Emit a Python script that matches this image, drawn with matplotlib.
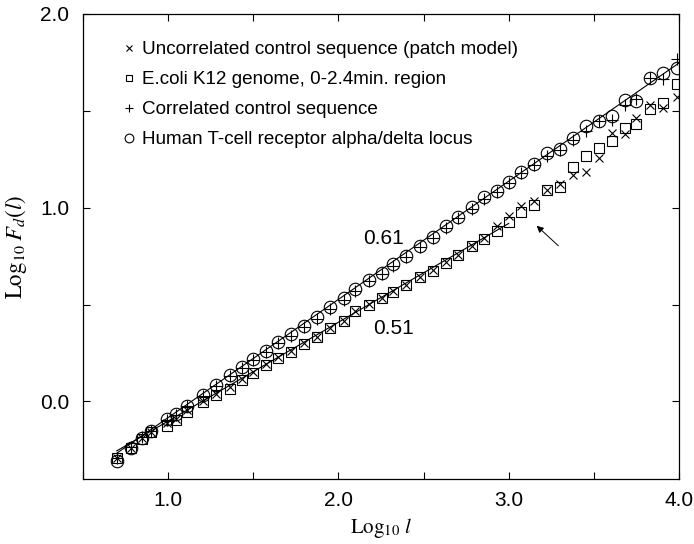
import numpy as np
import matplotlib
matplotlib.use('Agg')
from matplotlib import pyplot as plt
from matplotlib.ticker import MultipleLocator, FormatStrFormatter

# Log10 of window length l (shared by all four series)
log_l = [0.698, 0.780, 0.845, 0.899, 0.995, 1.044, 1.112, 1.203, 1.279, 1.363,
         1.432, 1.500, 1.573, 1.647, 1.722, 1.795, 1.873, 1.951, 2.030, 2.100,
         2.178, 2.253, 2.321, 2.396, 2.478, 2.553, 2.631, 2.703, 2.782, 2.856,
         2.929, 3.002, 3.075, 3.148, 3.225, 3.300, 3.375, 3.452, 3.528, 3.604,
         3.682, 3.750, 3.829, 3.907, 3.986]

# Log10 F_d(l) per series
uncorrelated = [-0.290, -0.239, -0.190, -0.158, -0.110, -0.090, -0.045, 0.005, 0.040, 0.075,
                0.117, 0.151, 0.191, 0.228, 0.259, 0.300, 0.335, 0.380, 0.418, 0.469,
                0.504, 0.535, 0.569, 0.603, 0.644, 0.679, 0.718, 0.758, 0.804, 0.844,
                0.907, 0.959, 1.010, 1.036, 1.091, 1.122, 1.170, 1.182, 1.259, 1.388,
                1.380, 1.462, 1.531, 1.514, 1.569]
ecoli = [-0.292, -0.242, -0.192, -0.160, -0.124, -0.098, -0.055, -0.004, 0.031, 0.067,
         0.112, 0.148, 0.188, 0.225, 0.257, 0.297, 0.332, 0.377, 0.415, 0.465,
         0.500, 0.532, 0.566, 0.600, 0.641, 0.676, 0.715, 0.755, 0.800, 0.840,
         0.881, 0.924, 0.976, 1.015, 1.091, 1.105, 1.211, 1.268, 1.308, 1.345,
         1.414, 1.431, 1.509, 1.538, 1.638]
correlated = [-0.290, -0.236, -0.185, -0.150, -0.095, -0.070, -0.025, 0.030, 0.080, 0.130,
              0.172, 0.215, 0.258, 0.300, 0.340, 0.385, 0.428, 0.478, 0.526, 0.572,
              0.620, 0.660, 0.700, 0.748, 0.795, 0.842, 0.895, 0.948, 0.995, 1.047,
              1.083, 1.130, 1.178, 1.220, 1.268, 1.300, 1.352, 1.397, 1.448, 1.452,
              1.531, 1.560, 1.672, 1.663, 1.766]
human_tcr = [-0.305, -0.239, -0.187, -0.153, -0.089, -0.064, -0.021, 0.035, 0.085, 0.135,
             0.177, 0.220, 0.263, 0.306, 0.349, 0.392, 0.435, 0.486, 0.532, 0.580,
             0.626, 0.664, 0.709, 0.753, 0.804, 0.851, 0.905, 0.954, 1.002, 1.053,
             1.088, 1.135, 1.182, 1.225, 1.280, 1.302, 1.359, 1.423, 1.448, 1.474,
             1.555, 1.552, 1.672, 1.693, 1.720]

labels = ['Uncorrelated control sequence (patch model)',
          'E.coli K12 genome, 0-2.4min. region',
          'Correlated control sequence',
          'Human T-cell receptor alpha/delta locus']

# Fitted lines: slope, intercept, x range
fit_slopes = [0.61, 0.51]
fit_intercepts = [-0.693, -0.611]
fit_ranges = [(0.698, 4.0), (0.698, 3.0)]
fit_labels = ['0.61', '0.51']

plt.rcParams['font.family'] = ['Liberation Sans', 'DejaVu Sans']
plt.rcParams['mathtext.fontset'] = 'stix'

fig = plt.figure(figsize=(6.94, 5.44), dpi=100)
ax = fig.add_axes([0.1196, 0.1195, 0.8588, 0.8548])

# fitted lines
for s, b, (x0, x1) in zip(fit_slopes, fit_intercepts, fit_ranges):
    xx = np.array([x0, x1])
    ax.plot(xx, s * xx + b, color='black', lw=0.8, zorder=1)

mk = dict(linestyle='none', markerfacecolor='none', markeredgecolor='black', zorder=3)
ax.plot(log_l, uncorrelated, marker='x', markersize=6, markeredgewidth=0.8, label=labels[0], **mk)
ax.plot(log_l, ecoli, marker='s', markersize=7, markeredgewidth=0.8, label=labels[1], **mk)
ax.plot(log_l, correlated, marker='+', markersize=8, markeredgewidth=0.8, label=labels[2], **mk)
ax.plot(log_l, human_tcr, marker='o', markersize=9, markeredgewidth=0.8, label=labels[3], **mk)

# slope labels and arrow
ax.text(2.263, 0.839, fit_labels[0], fontsize=15, ha='center', va='center')
ax.text(2.322, 0.375, fit_labels[1], fontsize=15, ha='center', va='center')
ax.annotate('', xy=(3.164, 0.907), xytext=(3.291, 0.804),
            arrowprops=dict(arrowstyle='-|>', color='black', lw=0.7,
                            mutation_scale=10, shrinkA=0, shrinkB=0))

ax.set_xlim(0.5, 4.0)
ax.set_ylim(-0.4, 2.0)
ax.xaxis.set_major_locator(MultipleLocator(1.0))
ax.xaxis.set_minor_locator(MultipleLocator(0.5))
ax.yaxis.set_major_locator(MultipleLocator(1.0))
ax.yaxis.set_minor_locator(MultipleLocator(0.5))
ax.xaxis.set_major_formatter(FormatStrFormatter('%.1f'))
ax.yaxis.set_major_formatter(FormatStrFormatter('%.1f'))
ax.tick_params(which='both', direction='in', top=True, right=True, length=5, width=0.8)
ax.tick_params(axis='x', which='major', labelsize=15, pad=9)
ax.tick_params(axis='y', which='major', labelsize=15, pad=10)
for sp in ax.spines.values():
    sp.set_linewidth(0.9)

ax.set_xlabel(r'$\mathrm{Log}_{10}\ l$', fontsize=15, labelpad=4)
ax.set_ylabel(r'$\mathrm{Log}_{10}\;F_d(l)$', fontsize=16.5, labelpad=8)

ax.legend(loc='upper left', bbox_to_anchor=(0.055, 0.958), frameon=False, fontsize=13.6,
          handlelength=0.6, handletextpad=0.4, labelspacing=0.68, markerscale=0.7,
          borderaxespad=0)

fig.savefig('out.png', dpi=100)
